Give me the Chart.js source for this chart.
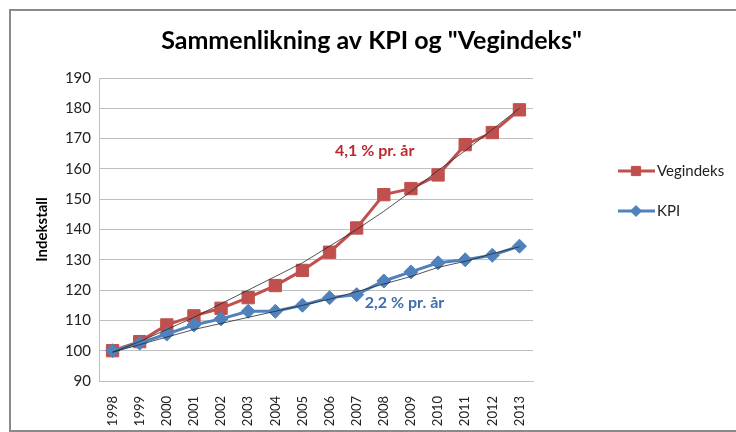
<!DOCTYPE html>
<html>
<head>
<meta charset="utf-8">
<script src="https://cdn.jsdelivr.net/npm/chart.js@4"></script>
<style>
  html, body { margin: 0; padding: 0; background: #fff; }
  #wrap { position: relative; width: 736px; height: 432px; overflow: hidden; }
  #frame { position: absolute; left: 9px; top: 9px; width: 760px; height: 419px; border: 2px solid #8a8a8a; }
  canvas { position: absolute; left: 0; top: 0; }
</style>
</head>
<body>
<div id="wrap">
  <div id="frame"></div>
  <canvas id="chart" width="736" height="432"></canvas>
</div>
<script>
const years = ["1998", "1999", "2000", "2001", "2002", "2003", "2004", "2005",
  "2006", "2007", "2008", "2009", "2010", "2011", "2012", "2013"];
const vegindeks = [100, 103, 108.5, 111.5, 114, 117.5, 121.5, 126.5,
  132.5, 140.5, 151.5, 153.5, 158, 168, 172, 179.5];
const kpi = [100, 102.5, 105.5, 108.5, 110.5, 113, 113, 115,
  117.5, 118.5, 123, 126, 129, 130, 131.5, 134.5];
// trend lines
const vegTrend = [99.5, 103, 107, 111, 115.5, 120, 124.5, 129,
  134.5, 140, 146, 152.5, 159.5, 166, 173, 180];
const kpiTrend = [99.5, 102, 104.5, 107, 109, 111, 113, 115,
  117, 119.5, 122, 124.5, 127.5, 129.5, 132, 134.3];
const yTicks = [90, 100, 110, 120, 130, 140, 150, 160, 170, 180, 190];

const FONT = "Lato, 'Open Sans', sans-serif";
const RED = "#c0504d";
const BLUE = "#4f81bd";

// legend + growth labels
const extras = {
  id: "extras",
  afterDraw(chart) {
    const ctx = chart.ctx;
    const area = chart.chartArea;
    const xs = chart.scales.x;
    const ys = chart.scales.y;
    ctx.save();

    // growth labels
    ctx.font = "bold 16px " + FONT;
    ctx.textBaseline = "middle";
    ctx.textAlign = "left";
    ctx.fillStyle = "#c0282d";
    ctx.fillText("4,1 % pr. år", xs.getPixelForValue(8.2), ys.getPixelForValue(166));
    ctx.fillStyle = "#3f6fae";
    ctx.fillText("2,2 % pr. år", xs.getPixelForValue(9.3), ys.getPixelForValue(115.7));

    // legend
    const items = [chart.data.datasets[2], chart.data.datasets[3]];
    const lx = area.right + 85;
    let ly = 171;
    items.forEach((ds, i) => {
      ctx.strokeStyle = ds.borderColor;
      ctx.lineWidth = 3;
      ctx.beginPath();
      ctx.moveTo(lx, ly);
      ctx.lineTo(lx + 37, ly);
      ctx.stroke();
      ctx.fillStyle = ds.pointBackgroundColor;
      ctx.strokeStyle = ds.pointBorderColor;
      ctx.lineWidth = 1;
      Chart.helpers.drawPoint(ctx, {
        pointStyle: ds.pointStyle,
        radius: i === 0 ? 6.5 : 5.5,
        rotation: 0,
        borderWidth: 1
      }, lx + 18, ly);
      ctx.fillStyle = "#222";
      ctx.font = "15px " + FONT;
      ctx.textAlign = "left";
      ctx.fillText(ds.label, lx + 39, ly);
      ly += 40;
    });
    ctx.restore();
  }
};

new Chart(document.getElementById("chart"), {
  type: "line",
  data: {
    labels: years,
    datasets: [
      {
        label: "Trend Vegindeks",
        data: vegTrend,
        borderColor: "rgba(40,40,40,0.8)",
        borderWidth: 1,
        pointRadius: 0,
        order: 0
      },
      {
        label: "Trend KPI",
        data: kpiTrend,
        borderColor: "rgba(40,40,40,0.8)",
        borderWidth: 1,
        pointRadius: 0,
        order: 0
      },
      {
        label: "Vegindeks",
        data: vegindeks,
        borderColor: RED,
        borderWidth: 3,
        pointStyle: "rect",
        pointRadius: 8.7,
        pointBackgroundColor: RED,
        pointBorderColor: RED,
        pointBorderWidth: 1,
        order: 2
      },
      {
        label: "KPI",
        data: kpi,
        borderColor: BLUE,
        borderWidth: 3,
        pointStyle: "rectRot",
        pointRadius: 7,
        pointBackgroundColor: BLUE,
        pointBorderColor: BLUE,
        pointBorderWidth: 1,
        order: 1
      }
    ]
  },
  options: {
    responsive: false,
    animation: false,
    layout: { padding: { left: 7, right: 0, top: 0, bottom: 0 } },
    plugins: {
      legend: { display: false },
      tooltip: { enabled: false },
      title: {
        display: true,
        text: 'Sammenlikning av KPI og "Vegindeks"',
        color: "#000",
        font: { family: FONT, size: 25, weight: "bold" },
        padding: { top: 26, bottom: 22 }
      }
    },
    scales: {
      x: {
        offset: true,
        grid: { display: false },
        border: { display: true, color: "#bfbfbf" },
        ticks: {
          color: "#222",
          font: { family: FONT, size: 13 },
          minRotation: 90,
          maxRotation: 90,
          autoSkip: false,
          padding: 7
        },
        afterFit(s) { s.height = 51; }
      },
      y: {
        min: 90,
        max: 190,
        afterBuildTicks(s) { s.ticks = yTicks.map(v => ({ value: v })); },
        grid: { color: "#bfbfbf", drawTicks: false },
        border: { color: "#bfbfbf" },
        ticks: {
          color: "#222",
          font: { family: FONT, size: 15 },
          padding: 8
        },
        title: {
          display: true,
          text: "Indekstall",
          color: "#000",
          font: { family: FONT, size: 15, weight: "bold" },
          padding: { top: 26, bottom: 0 }
        },
        afterFit(s) { s.width = 92; }
      },
      side: {
        position: "right",
        display: true,
        grid: { display: false, drawTicks: false },
        border: { display: false },
        ticks: { display: false },
        afterFit(s) { s.width = 203; }
      }
    }
  },
  plugins: [extras]
});
</script>
</body>
</html>
